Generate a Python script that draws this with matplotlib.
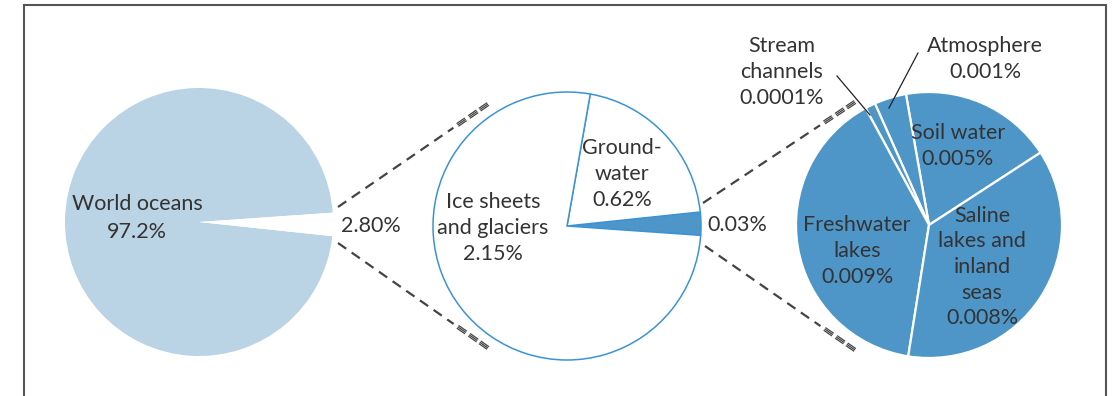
import matplotlib
matplotlib.use('Agg')
import matplotlib.pyplot as plt, numpy as np

# Data
ocean_labels = ['World oceans\n97.2%', '2.80%']
ocean_values = [97.2, 2.8]

fresh_labels = ['0.03%', 'Ground-\nwater\n0.62%', 'Ice sheets\nand glaciers\n2.15%']
fresh_values = [0.03, 0.62, 2.15]
fresh_drawn = [10, 74, 276]      # wedge angles as drawn (deg), small slice is enlarged

surface_labels = ['Soil water\n0.005%', 'Atmosphere\n0.001%', 'Stream\nchannels\n0.0001%',
                  'Freshwater\nlakes\n0.009%', 'Saline\nlakes and\ninland\nseas\n0.008%']
surface_values = [0.005, 0.001, 0.0001, 0.009, 0.008]
surface_drawn = [67, 14, 4.5, 142.5, 132]   # wedge angles as drawn (deg)

W, H = 1113, 396
TXT = '#333333'
LIGHT = '#bad3e5'
MID = '#4f96c8'
EDGE = '#3b93d6'

plt.rcParams['font.family'] = ['Lato', 'DejaVu Sans']


def fy(y):
    # image rows -> axes y
    return H - y


fig = plt.figure(figsize=(W / 100, H / 100), dpi=100)
ax = fig.add_axes([0, 0, 1, 1])

# Pie 1 - all water
ax.pie(ocean_values, center=(199, fy(222)), radius=134, startangle=4,
       colors=[LIGHT, 'white'], wedgeprops=dict(linewidth=0))

# Pie 2 - fresh water
ax.pie(fresh_drawn, center=(567, fy(226)), radius=134, startangle=-4,
       colors=[MID, 'white', 'white'],
       wedgeprops=dict(edgecolor=EDGE, linewidth=1.1))

# Pie 3 - surface and atmospheric water
ax.pie(surface_drawn, center=(929, fy(225)), radius=133, startangle=33,
       colors=[MID] * 5, wedgeprops=dict(edgecolor='white', linewidth=1.6))


def connector(x0, y0, x1, y1):
    p0 = np.array([x0, fy(y0)], float)
    p1 = np.array([x1, fy(y1)], float)
    d = p1 - p0
    L = np.hypot(*d)
    u = d / L
    n = np.array([-u[1], u[0]])
    cut = L - 42
    q = p0 + u * cut
    ax.plot([p0[0], q[0]], [p0[1], q[1]], color='#444444', lw=1.6,
            ls=(0, (4.5, 3)), solid_capstyle='butt')
    # last dashes drawn as triple hairlines
    for s in (L - 37, L - 23, L - 10):
        a = p0 + u * s
        b = p0 + u * (s + 10)
        for off in (-1.6, 0, 1.6):
            ax.plot([a[0] + n[0] * off, b[0] + n[0] * off],
                    [a[1] + n[1] * off, b[1] + n[1] * off],
                    color='#444444', lw=0.9, solid_capstyle='butt')


connector(338, 207, 488, 104)
connector(338, 243, 488, 348)
connector(703, 203, 855, 102)
connector(705, 246, 855, 350)

# labels
fs = 15.5
ls = 1.35
ax.text(137, fy(218), ocean_labels[0], ha='center', va='center', fontsize=fs,
        color=TXT, linespacing=1.45)
ax.text(371, fy(226), ocean_labels[1], ha='center', va='center', fontsize=fs, color=TXT)

ax.text(737, fy(225), fresh_labels[0], ha='center', va='center', fontsize=fs, color=TXT)
ax.text(622, fy(174), fresh_labels[1], ha='center', va='center', fontsize=fs,
        color=TXT, linespacing=ls)
ax.text(493, fy(228), fresh_labels[2], ha='center', va='center', fontsize=fs,
        color=TXT, linespacing=ls)

ax.text(958, fy(146), surface_labels[0], ha='center', va='center', fontsize=fs,
        color=TXT, linespacing=ls)
ax.text(985, fy(59), surface_labels[1], ha='center', va='center', fontsize=fs,
        color=TXT, linespacing=ls)
ax.text(782, fy(72), surface_labels[2], ha='center', va='center', fontsize=fs,
        color=TXT, linespacing=ls)
ax.text(857, fy(251), surface_labels[3], ha='center', va='center', fontsize=fs,
        color=TXT, linespacing=ls)
ax.text(982, fy(267), surface_labels[4], ha='center', va='center', fontsize=fs,
        color=TXT, linespacing=ls)

# leader lines for the two thin slices
ax.plot([837, 870], [fy(76), fy(115)], color='#222222', lw=0.9)
ax.plot([918, 889], [fy(53), fy(108)], color='#222222', lw=0.9)

# frame
ax.plot([24, 24, 1106, 1106], [0, fy(5), fy(5), 0], color='#555555', lw=1.5,
        solid_joinstyle='miter')

ax.set_xlim(0, W)
ax.set_ylim(0, H)
ax.set_aspect('equal')
ax.axis('off')

fig.savefig('out.png', dpi=100)
